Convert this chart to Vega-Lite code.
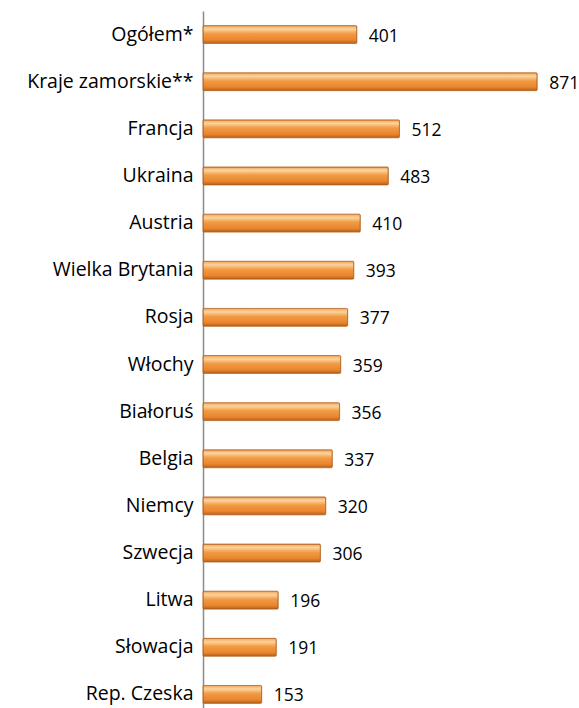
{
  "$schema": "https://vega.github.io/schema/vega-lite/v6.json",
  "autosize": {"type": "none"},
  "padding": {"left": 203, "top": 11, "right": 0, "bottom": 0},
  "width": 376,
  "height": 707,
  "background": "white",
  "config": {"view": {"stroke": null}, "font": "Open Sans"},
  "data": {
    "values": [
      {"kraj": "Ogółem*", "wartosc": 401},
      {"kraj": "Kraje zamorskie**", "wartosc": 871},
      {"kraj": "Francja", "wartosc": 512},
      {"kraj": "Ukraina", "wartosc": 483},
      {"kraj": "Austria", "wartosc": 410},
      {"kraj": "Wielka Brytania", "wartosc": 393},
      {"kraj": "Rosja", "wartosc": 377},
      {"kraj": "Włochy", "wartosc": 359},
      {"kraj": "Białoruś", "wartosc": 356},
      {"kraj": "Belgia", "wartosc": 337},
      {"kraj": "Niemcy", "wartosc": 320},
      {"kraj": "Szwecja", "wartosc": 306},
      {"kraj": "Litwa", "wartosc": 196},
      {"kraj": "Słowacja", "wartosc": 191},
      {"kraj": "Rep. Czeska", "wartosc": 153}
    ]
  },
  "encoding": {
    "y": {
      "field": "kraj",
      "type": "nominal",
      "sort": null,
      "scale": {"paddingInner": 0.62, "paddingOuter": 0.31},
      "axis": {
        "title": null,
        "ticks": false,
        "domainColor": "#8c8c8c",
        "domainWidth": 1.5,
        "labelFontSize": 19.5,
        "labelFontWeight": "normal",
        "labelColor": "#000000",
        "labelPadding": 10,
        "labelLimit": 250,
        "labelFont": "Open Sans"
      }
    },
    "x": {
      "field": "wartosc",
      "type": "quantitative",
      "scale": {"domain": [0, 980]},
      "axis": null
    }
  },
  "layer": [
    {
      "mark": {
        "type": "bar",
        "cornerRadius": 1,
        "stroke": "#b4601c",
        "strokeWidth": 0.8,
        "fill": {
          "gradient": "linear",
          "x1": 0, "y1": 0, "x2": 0, "y2": 1,
          "stops": [
            {"offset": 0, "color": "#f3a55a"},
            {"offset": 0.2, "color": "#fbd39c"},
            {"offset": 0.45, "color": "#f29b45"},
            {"offset": 0.8, "color": "#e9852d"},
            {"offset": 1, "color": "#b4601c"}
          ]
        }
      }
    },
    {
      "mark": {
        "type": "text",
        "align": "left",
        "baseline": "middle",
        "dx": 12,
        "dy": 2,
        "fontSize": 17.5,
        "color": "#000000",
        "font": "Open Sans"
      },
      "encoding": {"text": {"field": "wartosc", "type": "quantitative"}}
    }
  ]
}
